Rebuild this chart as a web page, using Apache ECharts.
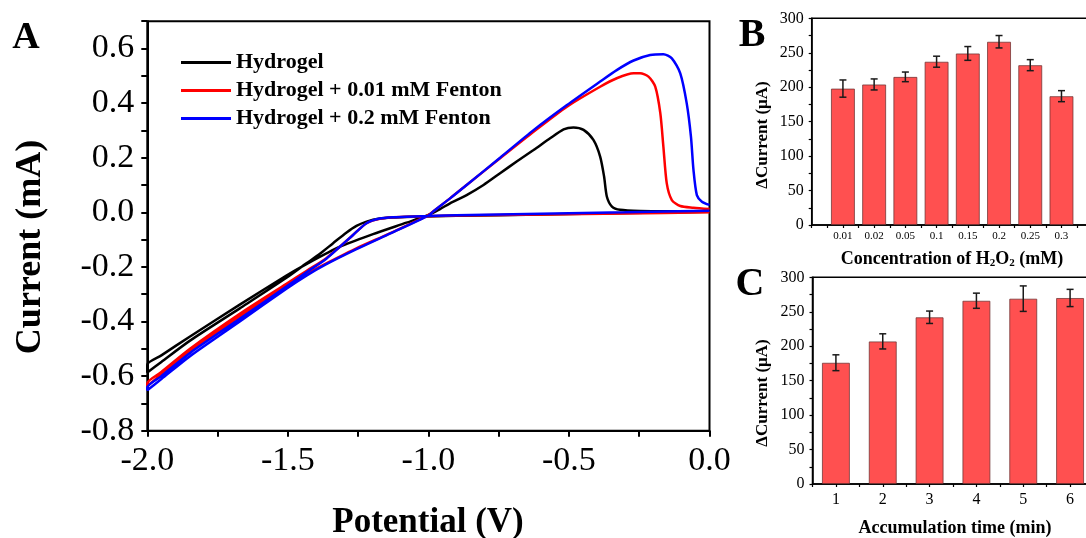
<!DOCTYPE html>
<html><head><meta charset="utf-8">
<script src="https://cdn.jsdelivr.net/npm/echarts@6/dist/echarts.min.js"></script>
<style>html,body{margin:0;padding:0;background:#fff}#c{width:1086px;height:538px}</style>
</head><body><div id="c"></div>
<script>
const FONT = '"Liberation Serif","Times New Roman",serif';

// ---------- Panel A: cyclic voltammograms ----------
const seriesNames = ['Hydrogel', 'Hydrogel + 0.01 mM Fenton', 'Hydrogel + 0.2 mM Fenton'];
const seriesColors = ['#000000', '#ff0000', '#0000ff'];

const hydrogelV = [0.0, -0.3, -0.6, -0.9, -1.05, -1.12, -1.173, -1.22, -1.256, -1.291, -1.339, -1.386, -1.434, -1.505, -1.671, -1.848, -1.95, -2.0,
  -2.0, -1.95, -1.848, -1.671, -1.505, -1.434, -1.315, -1.197, -1.078, -1.0, -0.96, -0.923, -0.864, -0.804, -0.745, -0.686, -0.626, -0.567, -0.519, -0.484, -0.448, -0.413, -0.389, -0.375, -0.365, -0.347, -0.318, -0.247, -0.1, 0.0];
const hydrogelI = [0.002, -0.003, -0.008, -0.013, -0.016, -0.019, -0.023, -0.034, -0.05, -0.074, -0.113, -0.152, -0.187, -0.24, -0.352, -0.47, -0.548, -0.587,
  -0.558, -0.524, -0.455, -0.338, -0.232, -0.19, -0.126, -0.08, -0.038, -0.01, 0.011, 0.033, 0.063, 0.1, 0.143, 0.186, 0.228, 0.271, 0.304, 0.311, 0.302, 0.265, 0.204, 0.131, 0.057, 0.021, 0.009, 0.005, 0.004, 0.004];

const fenton001V = [0.0, -0.3, -0.6, -0.9, -1.05, -1.126, -1.173, -1.22, -1.268, -1.315, -1.363, -1.434, -1.505, -1.671, -1.848, -1.95, -2.0,
  -2.0, -1.95, -1.848, -1.671, -1.505, -1.434, -1.363, -1.256, -1.137, -1.0, -0.982, -0.923, -0.864, -0.745, -0.626, -0.507, -0.389, -0.33, -0.27, -0.247, -0.217, -0.193, -0.175, -0.164, -0.152, -0.134, -0.104, -0.057, 0.0];
const fenton001I = [0.0, -0.004, -0.008, -0.012, -0.015, -0.018, -0.024, -0.04, -0.083, -0.126, -0.168, -0.215, -0.262, -0.372, -0.5, -0.585, -0.626,
  -0.636, -0.594, -0.508, -0.382, -0.265, -0.225, -0.187, -0.132, -0.077, -0.01, 0.004, 0.051, 0.1, 0.198, 0.295, 0.387, 0.46, 0.491, 0.509, 0.509, 0.497, 0.46, 0.363, 0.24, 0.106, 0.045, 0.023, 0.017, 0.012];

const fenton02V = [0.0, -0.3, -0.6, -0.9, -1.05, -1.126, -1.173, -1.22, -1.268, -1.315, -1.363, -1.434, -1.505, -1.671, -1.848, -1.95, -2.0,
  -2.0, -1.95, -1.848, -1.671, -1.505, -1.434, -1.363, -1.256, -1.137, -1.0, -0.982, -0.923, -0.864, -0.745, -0.626, -0.507, -0.389, -0.33, -0.27, -0.211, -0.164, -0.134, -0.104, -0.081, -0.066, -0.057, -0.045, -0.027, 0.0];
const fenton02I = [0.006, 0.0, -0.005, -0.011, -0.015, -0.018, -0.023, -0.04, -0.083, -0.126, -0.17, -0.22, -0.272, -0.39, -0.515, -0.6, -0.642,
  -0.652, -0.611, -0.527, -0.4, -0.28, -0.232, -0.19, -0.135, -0.078, -0.012, 0.004, 0.051, 0.1, 0.2, 0.301, 0.393, 0.479, 0.521, 0.556, 0.576, 0.579, 0.564, 0.509, 0.399, 0.277, 0.155, 0.063, 0.039, 0.027];

// ---------- Panel B: H2O2 concentration ----------
const concCategories = ['0.01', '0.02', '0.05', '0.1', '0.15', '0.2', '0.25', '0.3'];
const concValues = [198, 204, 215, 237, 249, 266, 232, 187];
const concErrors = [12.5, 8, 7, 8, 10, 9, 8, 8];

// ---------- Panel C: accumulation time ----------
const timeCategories = ['1', '2', '3', '4', '5', '6'];
const timeValues = [176, 207, 242, 266, 269, 270];
const timeErrors = [11.5, 11, 9, 11, 18.5, 12.5];

const zip = (a, b) => a.map((v, i) => [v, b[i]]);

function errRender(params, api) {
  const x = api.value(0), y = api.value(1), e = api.value(2);
  const hi = api.coord([x, y + e]), lo = api.coord([x, y - e]);
  const w = 3.5;
  const st = { stroke: '#1a1a1a', lineWidth: 1.5 };
  return { type: 'group', children: [
    { type: 'line', shape: { x1: hi[0], y1: hi[1], x2: lo[0], y2: lo[1] }, style: st },
    { type: 'line', shape: { x1: hi[0] - w, y1: hi[1], x2: hi[0] + w, y2: hi[1] }, style: st },
    { type: 'line', shape: { x1: lo[0] - w, y1: lo[1], x2: lo[0] + w, y2: lo[1] }, style: st }
  ]};
}

const axisLineA = { show: true, onZero: false, lineStyle: { color: '#000', width: 2 } };
const axisLineS = { show: true, onZero: false, lineStyle: { color: '#000', width: 1.5 } };

const chart = echarts.init(document.getElementById('c'), null, { renderer: 'canvas' });
chart.setOption({
  animation: false,
  backgroundColor: '#fff',
  grid: [
    { left: 147.3, top: 21.2, width: 562.2, height: 409.5, show: true, borderColor: '#000', borderWidth: 2, outerBoundsMode: 'none', containLabel: false },
    { left: 811.7, top: 18.3, width: 281, height: 206.7, show: true, borderColor: '#000', borderWidth: 1.5, outerBoundsMode: 'none', containLabel: false },
    { left: 812.5, top: 277.3, width: 281, height: 206.7, show: true, borderColor: '#000', borderWidth: 1.5, outerBoundsMode: 'none', containLabel: false }
  ],
  xAxis: [
    { type: 'value', gridIndex: 0, min: -2, max: 0, interval: 0.25, axisLine: axisLineA,
      axisTick: { show: true, length: 6, lineStyle: { color: '#000', width: 2 } },
      splitLine: { show: false },
      axisLabel: { margin: 13, fontFamily: FONT, fontSize: 34, color: '#000',
        formatter: v => { const r = Math.round(v * 4); return r % 2 === 0 ? (r / 4).toFixed(1) : ''; } } },
    { type: 'value', gridIndex: 1, min: 0, max: 9, interval: 0.5, axisLine: axisLineS,
      axisTick: { show: true, length: 3, lineStyle: { color: '#000', width: 1.2 } },
      splitLine: { show: false },
      axisLabel: { margin: 6, fontFamily: FONT, fontSize: 11, color: '#000',
        formatter: v => { const r = Math.round(v * 2); return (r % 2 === 0 && r / 2 >= 1 && r / 2 <= concCategories.length) ? concCategories[r / 2 - 1] : ''; } } },
    { type: 'value', gridIndex: 2, min: 0.5, max: 6.5, interval: 0.5, axisLine: axisLineS,
      axisTick: { show: true, length: 3, lineStyle: { color: '#000', width: 1.2 } },
      splitLine: { show: false },
      axisLabel: { margin: 8, fontFamily: FONT, fontSize: 16, color: '#000',
        formatter: v => { const r = Math.round(v * 2); return (r % 2 === 0 && r / 2 >= 1 && r / 2 <= timeCategories.length) ? timeCategories[r / 2 - 1] : ''; } } }
  ],
  yAxis: [
    { type: 'value', gridIndex: 0, min: -0.8, max: 0.7, interval: 0.1, axisLine: axisLineA,
      axisTick: { show: true, length: 6, lineStyle: { color: '#000', width: 2 } },
      splitLine: { show: false },
      axisLabel: { margin: 13, fontFamily: FONT, fontSize: 34, color: '#000',
        formatter: v => { const r = Math.round(v * 10); return (r % 2 === 0 && r <= 6) ? (r / 10).toFixed(1) : ''; } } },
    { type: 'value', gridIndex: 1, min: 0, max: 300, interval: 25, axisLine: axisLineS,
      axisTick: { show: true, length: 3, lineStyle: { color: '#000', width: 1.2 } },
      splitLine: { show: false },
      axisLabel: { margin: 8, fontFamily: FONT, fontSize: 16, color: '#000',
        formatter: v => (Math.round(v) % 50 === 0 ? String(Math.round(v)) : '') } },
    { type: 'value', gridIndex: 2, min: 0, max: 300, interval: 25, axisLine: axisLineS,
      axisTick: { show: true, length: 3, lineStyle: { color: '#000', width: 1.2 } },
      splitLine: { show: false },
      axisLabel: { margin: 8, fontFamily: FONT, fontSize: 16, color: '#000',
        formatter: v => (Math.round(v) % 50 === 0 ? String(Math.round(v)) : '') } }
  ],
  legend: {
    data: seriesNames, orient: 'vertical', left: 181, top: 51, itemGap: 5, padding: 0,
    icon: 'rect', itemWidth: 50, itemHeight: 3,
    textStyle: { fontFamily: FONT, fontSize: 22, fontWeight: 'bold', color: '#000', lineHeight: 23 }
  },
  series: [
    { name: seriesNames[0], type: 'line', xAxisIndex: 0, yAxisIndex: 0, data: zip(hydrogelV, hydrogelI),
      showSymbol: false, symbol: 'none', smooth: 0.25, color: seriesColors[0], lineStyle: { width: 2.5, color: seriesColors[0] } },
    { name: seriesNames[1], type: 'line', xAxisIndex: 0, yAxisIndex: 0, data: zip(fenton001V, fenton001I),
      showSymbol: false, symbol: 'none', smooth: 0.25, color: seriesColors[1], lineStyle: { width: 2.5, color: seriesColors[1] } },
    { name: seriesNames[2], type: 'line', xAxisIndex: 0, yAxisIndex: 0, data: zip(fenton02V, fenton02I),
      showSymbol: false, symbol: 'none', smooth: 0.25, color: seriesColors[2], lineStyle: { width: 2.5, color: seriesColors[2] } },
    { type: 'bar', xAxisIndex: 1, yAxisIndex: 1, barWidth: 24,
      data: concValues.map((v, i) => [i + 1, v]),
      itemStyle: { color: '#ff5050', borderColor: 'rgba(110,50,50,0.75)', borderWidth: 1 } },
    { type: 'custom', xAxisIndex: 1, yAxisIndex: 1, renderItem: errRender, z: 5,
      encode: { x: 0, y: 1 }, data: concValues.map((v, i) => [i + 1, v, concErrors[i]]) },
    { type: 'bar', xAxisIndex: 2, yAxisIndex: 2, barWidth: 28,
      data: timeValues.map((v, i) => [i + 1, v]),
      itemStyle: { color: '#ff5050', borderColor: 'rgba(110,50,50,0.75)', borderWidth: 1 } },
    { type: 'custom', xAxisIndex: 2, yAxisIndex: 2, renderItem: errRender, z: 5,
      encode: { x: 0, y: 1 }, data: timeValues.map((v, i) => [i + 1, v, timeErrors[i]]) }
  ],
  graphic: [
    { type: 'text', x: 26, y: 38, style: { text: 'A', font: 'bold 38px ' + FONT, fill: '#000', align: 'center', verticalAlign: 'middle' } },
    { type: 'text', x: 752, y: 36, style: { text: 'B', font: 'bold 40px ' + FONT, fill: '#000', align: 'center', verticalAlign: 'middle' } },
    { type: 'text', x: 750, y: 285, style: { text: 'C', font: 'bold 40px ' + FONT, fill: '#000', align: 'center', verticalAlign: 'middle' } },
    { type: 'text', x: 31, y: 247, rotation: Math.PI / 2, style: { text: 'Current (mA)', font: 'bold 36px ' + FONT, fill: '#000', align: 'center', verticalAlign: 'middle' } },
    { type: 'text', x: 428, y: 523, style: { text: 'Potential (V)', font: 'bold 35px ' + FONT, fill: '#000', align: 'center', verticalAlign: 'middle' } },
    { type: 'text', x: 763, y: 135, rotation: Math.PI / 2, style: { text: 'ΔCurrent (μA)', font: 'bold 17px ' + FONT, fill: '#000', align: 'center', verticalAlign: 'middle' } },
    { type: 'text', x: 763, y: 393, rotation: Math.PI / 2, style: { text: 'ΔCurrent (μA)', font: 'bold 17px ' + FONT, fill: '#000', align: 'center', verticalAlign: 'middle' } },
    { type: 'text', x: 952, y: 259, style: {
        text: 'Concentration of H{s|2}O{s|2} (mM)', fontFamily: FONT, fontSize: 18, fontWeight: 'bold', fill: '#000',
        align: 'center', verticalAlign: 'middle',
        rich: { s: { fontFamily: FONT, fontSize: 11, fontWeight: 'bold', fill: '#000', padding: [9, 0, 0, 0] } } } },
    { type: 'text', x: 955, y: 528, style: { text: 'Accumulation time (min)', font: 'bold 18px ' + FONT, fill: '#000', align: 'center', verticalAlign: 'middle' } }
  ]
});
</script></body></html>
